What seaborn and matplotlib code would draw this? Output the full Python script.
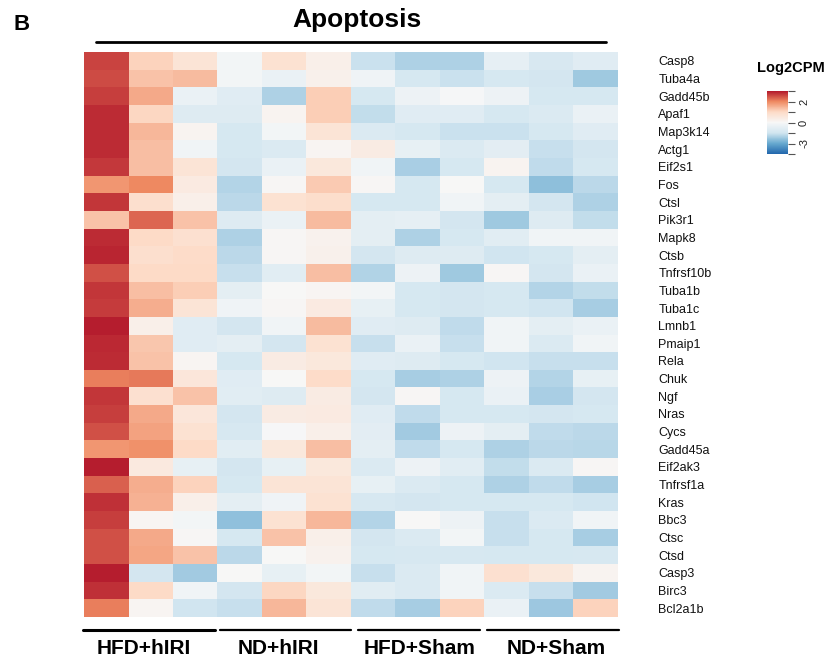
import numpy as np
import pandas as pd
import matplotlib
matplotlib.use("Agg")
import matplotlib.pyplot as plt
import seaborn as sns
from matplotlib.colors import LinearSegmentedColormap, TwoSlopeNorm
from matplotlib.lines import Line2D
from matplotlib.transforms import Bbox

# Genes (rows) and groups (3 samples each)
genes = ["Casp8", "Tuba4a", "Gadd45b", "Apaf1", "Map3k14", "Actg1", "Eif2s1", "Fos",
         "Ctsl", "Pik3r1", "Mapk8", "Ctsb", "Tnfrsf10b", "Tuba1b", "Tuba1c", "Lmnb1",
         "Pmaip1", "Rela", "Chuk", "Ngf", "Nras", "Cycs", "Gadd45a", "Eif2ak3",
         "Tnfrsf1a", "Kras", "Bbc3", "Ctsc", "Ctsd", "Casp3", "Birc3", "Bcl2a1b"]
groups = ["HFD+hIRI", "ND+hIRI", "HFD+Sham", "ND+Sham"]

# Log2CPM (row-scaled)
hfd_hiri = [[2.62, 1.1, 0.7], [2.55, 1.3, 1.4], [2.65, 1.6, -0.5], [2.82, 1.05, -1.0],
            [2.82, 1.45, 0.15], [2.82, 1.35, -0.25], [2.7, 1.35, 0.7], [1.85, 2.0, 0.45],
            [2.72, 0.85, 0.3], [1.3, 2.3, 1.3], [2.82, 1.0, 0.8], [2.88, 0.85, 0.95],
            [2.5, 1.0, 1.0], [2.72, 1.35, 1.15], [2.68, 1.55, 0.7], [2.95, 0.3, -0.9],
            [2.85, 1.25, -0.9], [2.82, 1.3, 0.1], [2.1, 2.15, 0.6], [2.72, 0.8, 1.3],
            [2.65, 1.6, 0.6], [2.5, 1.7, 0.75], [1.85, 1.9, 1.0], [2.95, 0.5, -0.6],
            [2.35, 1.55, 1.1], [2.78, 1.5, 0.3], [2.65, 0.1, -0.2], [2.5, 1.6, 0.05],
            [2.5, 1.65, 1.3], [2.95, -1.4, -2.15], [2.78, 1.0, -0.25], [2.1, 0.1, -1.5]]
nd_hiri = [[-0.2, 0.75, 0.3], [-0.2, -0.5, 0.25], [-0.9, -2.0, 1.15], [-1.0, 0.15, 1.15],
           [-1.3, -0.2, 0.7], [-1.3, -1.1, 0.1], [-1.4, -0.5, 0.55], [-1.9, 0.05, 1.2],
           [-1.8, 0.75, 0.9], [-1.0, -0.5, 1.4], [-2.0, 0.05, 0.2], [-1.8, 0.05, 0.25],
           [-1.65, -0.85, 1.35], [-0.75, 0.0, 0.1], [-0.3, 0.05, 0.45], [-1.4, -0.25, 1.4],
           [-0.75, -1.4, 0.75], [-1.3, 0.4, 0.55], [-0.9, 0.0, 0.95], [-0.85, -1.0, 0.4],
           [-1.4, 0.4, 0.45], [-1.25, -0.05, 0.3], [-0.85, 0.55, 1.35], [-1.4, -0.6, 0.55],
           [-1.3, 0.7, 0.7], [-0.75, -0.3, 0.75], [-2.4, 0.75, 1.45], [-1.3, 1.3, 0.3],
           [-1.8, 0.0, 0.2], [0.0, -0.6, -0.2], [-1.4, 1.05, 0.55], [-1.65, 1.45, 0.7]]
hfd_sham = [[-1.6, -2.0, -2.0], [-0.3, -1.3, -1.6], [-1.3, -0.4, -0.1], [-1.7, -0.9, -0.9],
            [-1.1, -1.3, -1.6], [0.4, -0.6, -1.1], [-0.25, -2.05, -1.3], [0.05, -1.3, 0.0],
            [-1.3, -1.3, -0.25], [-0.75, -0.65, -1.4], [-0.75, -2.0, -1.3], [-1.4, -1.0, -1.0],
            [-1.95, -0.4, -2.2], [-0.2, -1.3, -1.4], [-0.6, -1.3, -1.4], [-0.9, -1.0, -1.75],
            [-1.65, -0.5, -1.65], [-0.9, -1.0, -1.3], [-1.3, -2.1, -2.0], [-1.4, 0.05, -1.3],
            [-0.9, -1.75, -1.3], [-0.8, -2.15, -0.4], [-0.75, -1.75, -1.3], [-1.1, -0.4, -0.85],
            [-0.6, -1.1, -1.3], [-1.25, -1.4, -1.3], [-1.9, 0.0, -0.4], [-1.4, -1.1, -0.2],
            [-1.3, -1.25, -1.25], [-1.65, -1.1, -0.25], [-0.85, -1.1, -0.25], [-1.75, -2.1, 1.1]]
nd_sham = [[-0.7, -1.2, -0.9], [-1.3, -1.4, -2.2], [-0.4, -1.3, -1.3], [-1.3, -1.1, -0.5],
           [-1.6, -1.3, -0.9], [-0.8, -1.65, -1.4], [0.15, -1.75, -1.3], [-1.3, -2.45, -1.8],
           [-0.75, -1.4, -2.0], [-2.2, -1.0, -1.7], [-0.85, -0.25, -0.25], [-1.5, -1.3, -0.75],
           [0.05, -1.4, -0.5], [-1.3, -1.9, -1.7], [-1.3, -1.5, -2.1], [-0.25, -0.75, -0.5],
           [-0.25, -1.1, -0.25], [-1.5, -1.65, -1.65], [-0.4, -1.9, -0.6], [-0.5, -2.05, -1.4],
           [-1.3, -1.4, -1.3], [-0.75, -1.75, -1.8], [-2.0, -1.8, -1.85], [-1.7, -1.1, 0.05],
           [-2.0, -1.75, -2.1], [-1.3, -1.3, -1.5], [-1.65, -1.1, -0.25], [-1.65, -1.3, -2.1],
           [-1.3, -1.3, -1.25], [0.8, 0.55, 0.15], [-1.1, -1.65, -2.15], [-0.5, -2.25, 1.1]]

cols = [f"{g}_{i + 1}" for g in groups for i in range(3)]
df = pd.DataFrame(np.hstack([hfd_hiri, nd_hiri, hfd_sham, nd_sham]), index=genes, columns=cols)

sns.set_style("white")
plt.rcParams["font.family"] = ["Liberation Sans", "DejaVu Sans"]
plt.rcParams["text.color"] = "black"

W, H = 828, 659
fx = lambda x: x / W
fy = lambda y: 1 - y / H

cmap = LinearSegmentedColormap.from_list(
    "rdbu7", ["#2166AC", "#67A9CF", "#D1E5F0", "#F7F7F7", "#FDDBC7", "#EF8A62", "#B2182B"])
norm = TwoSlopeNorm(vmin=-4.5, vcenter=0, vmax=3)

fig = plt.figure(figsize=(W / 100, H / 100), dpi=100)
ax = fig.add_axes([fx(84), fy(617), fx(618) - fx(84), fy(52) - fy(617)])
cax = fig.add_axes([fx(767), fy(154), fx(788) - fx(767), fy(91) - fy(154)])

sns.heatmap(df, ax=ax, cbar_ax=cax, cmap=cmap, norm=norm,
            xticklabels=False, yticklabels=genes, linewidths=0)

# Row labels on the right (cut at the panel edge like the original)
ax.yaxis.tick_right()
ax.tick_params(axis="y", length=0, pad=29, labelsize=9, labelcolor="#111111")
for lbl in ax.get_yticklabels():
    lbl.set_rotation(0)
    lbl.set_clip_on(True)
    lbl.set_clip_box(Bbox([[0, 0], [710.5, H]]))

# Colour key
cax.set_yticks([-4.5, -3, -1.5, 0, 1, 2, 3])
cax.set_yticklabels(["", "-3", "", "0", "", "2", ""])
cax.tick_params(axis="y", length=5, width=0.8, color="#555555", labelsize=8, pad=3,
                labelcolor="#222222")
for lbl in cax.get_yticklabels():
    lbl.set_rotation(90)
    lbl.set_va("center")
fig.text(fx(791), fy(68), "Log2CPM", ha="center", va="center", fontsize=10.5, fontweight="bold")

# Title, panel letter and group annotations
fig.text(fx(14), fy(24), "B", ha="left", va="center", fontsize=16, fontweight="bold")
fig.text(fx(357), fy(20), "Apoptosis", ha="center", va="center", fontsize=19, fontweight="bold")
fig.add_artist(Line2D([fx(96), fx(606)], [fy(42), fy(42)], color="black", lw=2,
                      transform=fig.transFigure))

seg = [(83, 215), (220, 351), (358, 480), (487, 619)]
centers = [144, 278, 420, 556]
for i, (g, (x0, x1), c) in enumerate(zip(groups, seg, centers)):
    fig.add_artist(Line2D([fx(x0), fx(x1)], [fy(630), fy(630)], color="black",
                          lw=2.2 if i == 0 else 1.6, transform=fig.transFigure))
    fig.text(fx(c), fy(648), g, ha="center", va="center", fontsize=15, fontweight="bold")

fig.savefig("out.png", dpi=100)
